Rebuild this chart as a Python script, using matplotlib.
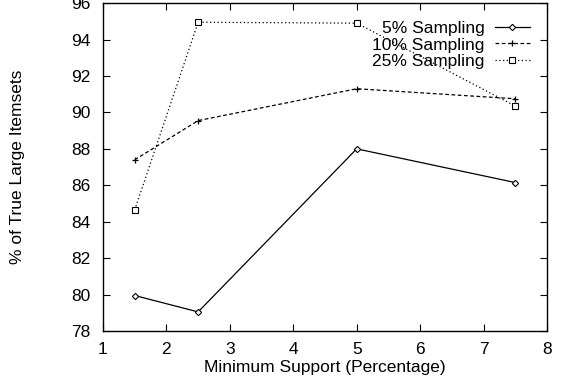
import matplotlib
matplotlib.use("Agg")
import matplotlib.pyplot as plt

plt.rcParams["font.family"] = ["Liberation Sans", "DejaVu Sans"]

support = [1.5, 2.5, 5, 7.5]
sampling_5 = [79.95, 79.05, 88.0, 86.15]
sampling_10 = [87.4, 89.55, 91.3, 90.75]
sampling_25 = [84.65, 94.95, 94.9, 90.35]
labels = ["5% Sampling", "10% Sampling", "25% Sampling"]

fig = plt.figure(figsize=(5.61, 3.89), dpi=100)
ax = fig.add_axes([0.1836, 0.149, 0.7914, 0.843])

ax.plot(support, sampling_5, color="black", lw=0.9, ls="-",
        marker="D", ms=3.2, mfc="white", mec="black", mew=0.8, label=labels[0])
ax.plot(support, sampling_10, color="black", lw=0.9, ls=(0, (3, 2)),
        marker="+", ms=5, mew=0.9, label=labels[1])
ax.plot(support, sampling_25, color="black", lw=0.9, ls=(0, (1, 2)),
        marker="s", ms=4, mfc="white", mec="black", mew=0.8, label=labels[2])

ax.set_xlim(1, 8)
ax.set_ylim(78, 96)
ax.set_xticks(range(1, 9))
ax.set_yticks(range(78, 97, 2))
ax.tick_params(direction="in", top=True, right=True, length=5, labelsize=12.5)
ax.tick_params(axis="x", pad=8)
ax.tick_params(axis="y", pad=9)
for s in ax.spines.values():
    s.set_linewidth(1.0)

ax.set_xlabel("Minimum Support (Percentage)", fontsize=12.5, labelpad=2)
ax.set_ylabel("% of True Large Itemsets", fontsize=12.5, labelpad=33)

ax.legend(loc="upper right", frameon=False, fontsize=12.5, markerfirst=False,
          handlelength=2.0, handletextpad=0.6, labelspacing=0.1,
          borderaxespad=0.8, borderpad=0.2)

fig.savefig("out.png", dpi=100)
